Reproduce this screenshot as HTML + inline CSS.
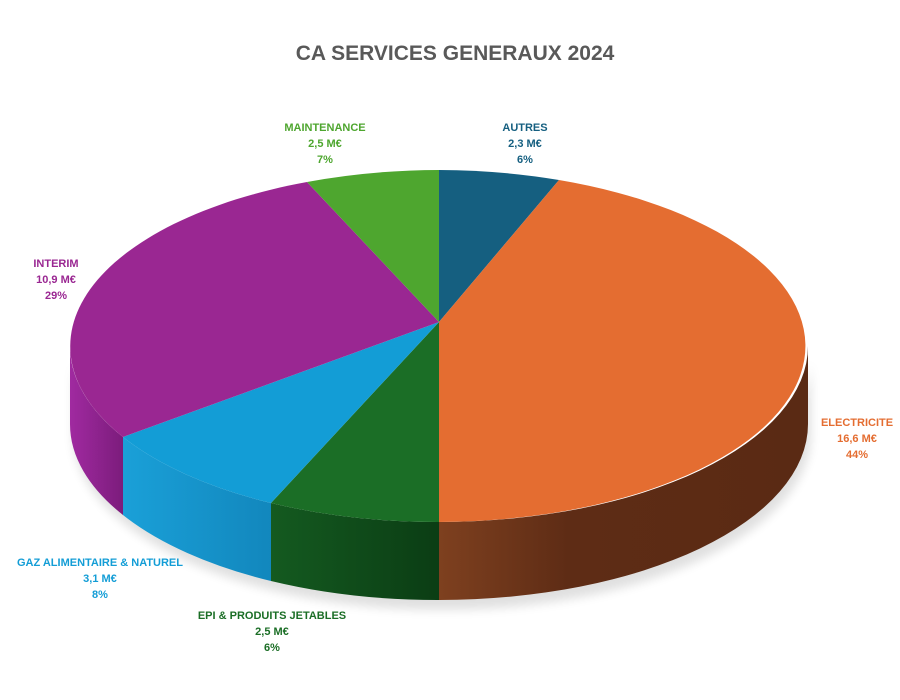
<!DOCTYPE html>
<html><head><meta charset="utf-8"><style>
html,body{margin:0;padding:0;background:#fff;}
svg{display:block;}
text{font-family:"Liberation Sans",sans-serif;font-weight:bold;}
</style></head><body>
<svg width="900" height="700" viewBox="0 0 900 700">
<defs>
<linearGradient id="gor" x1="439" y1="0" x2="808" y2="0" gradientUnits="userSpaceOnUse">
<stop offset="0" stop-color="#7e401f"/><stop offset="0.35" stop-color="#5e2c15"/><stop offset="1" stop-color="#5a2a14"/></linearGradient>
<linearGradient id="gdg" x1="271" y1="0" x2="439" y2="0" gradientUnits="userSpaceOnUse">
<stop offset="0" stop-color="#145a20"/><stop offset="1" stop-color="#0b3d14"/></linearGradient>
<linearGradient id="gbl" x1="123" y1="0" x2="271" y2="0" gradientUnits="userSpaceOnUse">
<stop offset="0" stop-color="#1aa0d8"/><stop offset="1" stop-color="#1287bd"/></linearGradient>
<linearGradient id="gpu" x1="70" y1="0" x2="123" y2="0" gradientUnits="userSpaceOnUse">
<stop offset="0" stop-color="#a02aa0"/><stop offset="1" stop-color="#7c1c7c"/></linearGradient>
<filter id="sh" x="-10%" y="-10%" width="120%" height="130%"><feGaussianBlur stdDeviation="5"/></filter>
</defs>
<rect width="900" height="700" fill="#fff"/>
<text x="455" y="60" font-size="21" fill="#595959" text-anchor="middle">CA SERVICES GENERAUX 2024</text>
<path d="M808,350 A369,176 0 0 1 70,350 L70,428 A369,176 0 0 0 808,428 Z" fill="#000" opacity="0.12" filter="url(#sh)" transform="translate(3,6)"/>
<path d="M808,346 A369,176 0 0 1 439,522 L439,600 A369,176 0 0 0 808,424 Z" fill="url(#gor)"/>
<path d="M439,522 A369,176 0 0 1 271,503 L271,581 A369,176 0 0 0 439,600 Z" fill="url(#gdg)"/>
<path d="M271,503 A369,176 0 0 1 123,437 L123,515 A369,176 0 0 0 271,581 Z" fill="url(#gbl)"/>
<path d="M123,437 A369,176 0 0 1 70,346 L70,424 A369,176 0 0 0 123,515 Z" fill="url(#gpu)"/>
<path d="M439,322 L439,170 A369,176 0 0 1 559,180 Z" fill="#155f80"/>
<path d="M439,322 L559,180 A369,176 0 0 1 439,522 Z" fill="#e46d31"/>
<path d="M439,322 L439,522 A369,176 0 0 1 271,503 Z" fill="#1b6e26"/>
<path d="M439,322 L271,503 A369,176 0 0 1 123,437 Z" fill="#139dd6"/>
<path d="M439,322 L123,437 A369,176 0 0 1 307,182 Z" fill="#9a2792"/>
<path d="M439,322 L307,182 A369,176 0 0 1 439,170 Z" fill="#4ea62f"/>
<g font-size="11" text-anchor="middle">
<text x="325" y="131" fill="#4ea62f">MAINTENANCE</text><text x="325" y="147" fill="#4ea62f">2,5 M€</text><text x="325" y="163" fill="#4ea62f">7%</text>
<text x="525" y="131" fill="#155f80">AUTRES</text><text x="525" y="147" fill="#155f80">2,3 M€</text><text x="525" y="163" fill="#155f80">6%</text>
<text x="56" y="267" fill="#9a2792">INTERIM</text><text x="56" y="283" fill="#9a2792">10,9 M€</text><text x="56" y="299" fill="#9a2792">29%</text>
<text x="857" y="426" fill="#e46d31">ELECTRICITE</text><text x="857" y="442" fill="#e46d31">16,6 M€</text><text x="857" y="458" fill="#e46d31">44%</text>
<text x="100" y="566" fill="#139dd6">GAZ ALIMENTAIRE &amp; NATUREL</text><text x="100" y="582" fill="#139dd6">3,1 M€</text><text x="100" y="598" fill="#139dd6">8%</text>
<text x="272" y="619" fill="#1b6e26">EPI &amp; PRODUITS JETABLES</text><text x="272" y="635" fill="#1b6e26">2,5 M€</text><text x="272" y="651" fill="#1b6e26">6%</text>
</g>
</svg>
</body></html>
